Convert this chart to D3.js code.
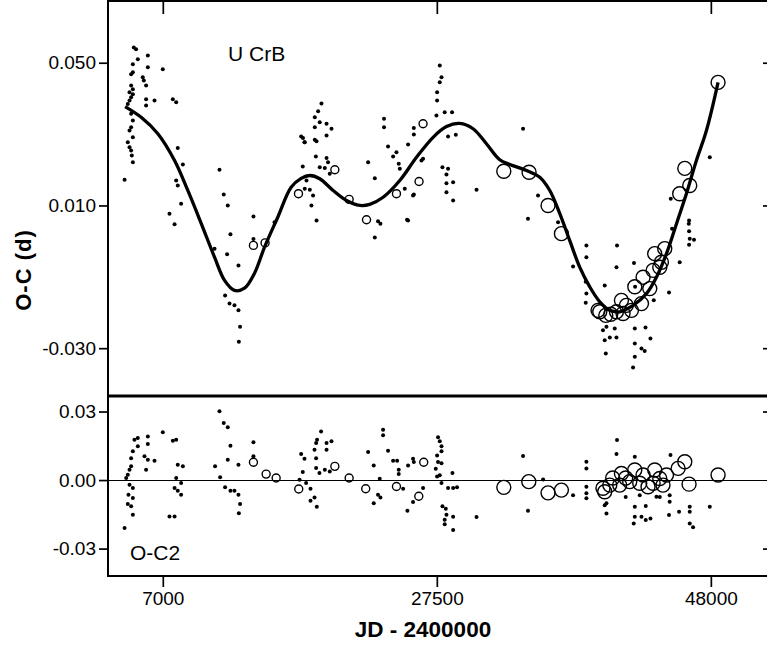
<!DOCTYPE html>
<html><head><meta charset="utf-8">
<script src="https://cdn.jsdelivr.net/npm/d3@7"></script>
<style>
html,body{margin:0;padding:0;background:#fff;overflow:hidden;}
svg{display:block;overflow:hidden;}
text{font-family:"Liberation Sans",Arial,sans-serif;fill:#000;}
</style></head>
<body>
<svg id="chart" width="767" height="650"></svg>
<script>
// ---------- DATA (JD-2400000, O-C in days) ----------
const xTicks = [7000, 27500, 48000];
const topYTicks = [0.050, 0.010, -0.030];
const botYTicks = [0.03, 0.00, -0.03];
const starLabel = "U CrB";
const residLabel = "O-C2";
const xTitle = "JD - 2400000";
const yTitle = "O-C (d)";

// visual minima (small dots), upper panel
const topDots = [
[4830,0.0543],[5000,0.0538],[5130,0.0510],[5880,0.0520],[4760,0.0496],[5880,0.0487],[7000,0.0482],
[4630,0.0468],[4760,0.0473],[5500,0.0459],[5580,0.0450],[4630,0.0436],[4760,0.0426],[5750,0.0436],
[4510,0.0417],[4760,0.0412],[4630,0.0403],[5750,0.0398],[4510,0.0394],[4380,0.0384],[6380,0.0394],
[7750,0.0398],[8000,0.0389],[5750,0.0380],[4630,0.0357],[4760,0.0338],[4630,0.0319],[4510,0.0310],
[4760,0.0291],[4380,0.0277],[4510,0.0263],[4630,0.0254],[4680,0.0240],[4760,0.0221],[4140,0.0172],
[8120,0.0261],[8500,0.0215],[8000,0.0170],[8120,0.0156],[8370,0.0105],[7500,0.0077],[7880,0.0047],
[11240,0.0200],[11560,0.0131],[11860,0.0100],[12060,0.0019],[10870,-0.0021],[11810,-0.0037],
[12660,-0.0068],[13780,0.0069],[13780,0.0006],[11660,-0.0152],[11990,-0.0175],[12360,-0.0180],
[12660,-0.0194],[12780,-0.0240],[12690,-0.0282],[17350,0.0293],[17600,0.0277],[17470,0.0209],
[15360,0.0053],[18870,0.0386],[18620,0.0364],[18370,0.0347],[18740,0.0333],[18370,0.0319],
[19250,0.0329],[19620,0.0315],[19250,0.0296],[18370,0.0284],[18500,0.0280],[17490,0.0289],
[17620,0.0277],[18450,0.0237],[19250,0.0233],[19360,0.0221],[18740,0.0207],[19120,0.0205],
[19490,0.0189],[17750,0.0170],[17620,0.0147],[18000,0.0144],[18240,0.0128],[18120,0.0100],
[18500,0.0058],[23550,0.0343],[23550,0.0319],[23850,0.0265],[24480,0.0249],[24230,0.0237],
[24650,0.0217],[24730,0.0203],[22360,0.0221],[22860,0.0176],[25100,0.0147],[25780,0.0131],
[23100,0.0056],[23280,0.0049],[22860,0.0010],[25270,0.0060],[25780,0.0317],[26470,0.0231],
[25780,0.0299],[27520,0.0417],[27720,0.0492],[27850,0.0459],[27720,0.0445],[27520,0.0394],
[27470,0.0352],[28090,0.0361],[28640,0.0361],[28340,0.0293],[28920,0.0298],[27920,0.0207],
[28220,0.0187],[28220,0.0162],[28720,0.0165],[28220,0.0137],[28720,0.0114],[28340,0.0203],
[30470,0.0144],[33950,0.0315],[34320,0.0063],[35070,0.0128],[47920,0.0235],[25350,0.0271],
[26350,0.0226],[25720,0.0128],[25350,0.0058],[36570,0.0053],[38690,-0.0012],[38690,-0.0045],
[37690,-0.0071],[38640,-0.0114],[38690,-0.0147],[38640,-0.0173],[40060,-0.0124],[40980,-0.0012],
[40940,-0.0073],[42250,-0.0061],[42330,-0.0128],[39930,-0.0250],[40190,-0.0240],[40810,-0.0245],
[40060,-0.0278],[40440,-0.0270],[40940,-0.0270],[42310,-0.0245],[43110,-0.0242],[43480,-0.0273],
[42310,-0.0287],[42810,-0.0301],[43050,-0.0308],[40140,-0.0315],[42310,-0.0324],[42180,-0.0354],
[44870,-0.0144],[45670,-0.0059],[46370,-0.0010],[46420,0.0007],[46740,0.0004],[46370,0.0028],
[46350,0.0049],[46370,0.0058],[45000,0.0119],[45100,0.0035],[43730,-0.0166]
];
// photographic minima (small open circles), upper panel
const topPhoto = [
[13780,-0.0012],[14650,-0.0005],[17150,0.0133],[19870,0.0200],[20940,0.0117],
[22240,0.0060],[24480,0.0133],[26170,0.0167],[26470,0.0329]
];
// photoelectric minima (large open circles), upper panel
const topPe = [
[32510,0.0196],[34400,0.0193],[35820,0.0100],[36820,0.0021],[45670,0.0133],[46050,0.0204],
[46420,0.0156],[48540,0.0445],[39690,-0.0198],[40140,-0.0208],[39560,-0.0194],[41310,-0.0166],
[41430,-0.0203],[40940,-0.0198],[42060,-0.0194],[42810,-0.0175],[42310,-0.0128],[42930,-0.0101],
[43430,-0.0133],[43680,-0.0082],[43800,-0.0035],[44300,-0.0059],[44550,-0.0021],[44180,-0.0073],
[41680,-0.0180],[40510,-0.0205]
];
// fitted curve
const fitCurve = [
[4180,0.0377],[5380,0.0347],[6630,0.0301],[7880,0.0226],[8870,0.0142],[9870,0.0050],
[10870,-0.0045],[11620,-0.0110],[12360,-0.0138],[13110,-0.0132],[13860,-0.0090],[14610,-0.0017],
[15600,0.0067],[16600,0.0151],[17350,0.0176],[18000,0.0184],[18740,0.0175],[19740,0.0142],
[20740,0.0114],[21740,0.0100],[22480,0.0103],[23480,0.0123],[24730,0.0170],[25980,0.0235],
[27220,0.0291],[28220,0.0321],[29220,0.0330],[30210,0.0315],[31210,0.0273],[32210,0.0228],
[32960,0.0215],[34210,0.0198],[35200,0.0179],[35950,0.0142],[36700,0.0077],[37440,0.0002],
[38190,-0.0073],[38940,-0.0128],[39690,-0.0170],[40440,-0.0194],[41180,-0.0198],[42180,-0.0180],
[43180,-0.0147],[43930,-0.0101],[44680,-0.0035],[45430,0.0049],[46170,0.0133],[46920,0.0226],
[47670,0.0310],[48540,0.0445]
];
// residuals O-C2, lower panel
const resDots = [
[4140,-0.0210],[4260,0.0009],[4380,0.0023],[4510,0.0045],[4630,0.0060],[4510,-0.0021],[4760,-0.0035],
[4430,-0.0064],[4760,-0.0079],[4380,-0.0105],[4630,-0.0115],[4760,-0.0152],[4630,0.0096],[4760,0.0126],
[4880,0.0177],[5130,0.0184],[5130,0.0148],[5880,0.0191],[5880,0.0158],[5630,0.0104],[5880,0.0089],
[5750,0.0045],[6380,0.0085],[7000,0.0209],[7750,0.0172],[8000,0.0177],[8120,0.0067],[8500,0.0060],
[8000,0.0009],[8370,-0.0013],[7880,-0.0035],[8120,-0.0047],[8370,-0.0064],[7500,-0.0159],[7880,-0.0159],
[11240,0.0301],[11560,0.0250],[11860,0.0231],[12060,0.0150],[11860,0.0089],[10910,0.0060],[11290,0.0012],
[11660,-0.0032],[12060,-0.0047],[12360,-0.0047],[12660,-0.0064],[12780,-0.0105],[12690,-0.0145],
[12660,0.0067],[13780,0.0166],[13780,0.0104],[17350,0.0114],[17600,0.0093],[17470,0.0035],[17230,0.0001],
[17720,-0.0013],[18050,-0.0038],[18350,-0.0076],[18050,-0.0091],[18520,-0.0117],[18840,0.0213],
[18540,0.0177],[18470,0.0162],[18350,0.0133],[18470,0.0096],[18470,0.0053],[18720,0.0031],[19250,0.0162],
[19620,0.0170],[19250,0.0133],[19120,0.0045],[19490,0.0038],[23480,0.0220],[23480,0.0196],[22360,0.0123],
[23850,0.0128],[24230,0.0085],[24530,0.0085],[22780,0.0064],[24650,0.0045],[24650,0.0026],[23230,0.0006],
[23100,-0.0064],[23280,-0.0076],[22780,-0.0102],[24980,-0.0038],[25350,0.0064],[25720,0.0093],
[25780,0.0079],[25300,-0.0134],[26470,-0.0035],[25720,-0.0096],[27590,0.0187],[27720,0.0170],
[27850,0.0148],[27850,0.0126],[27520,0.0108],[27590,0.0079],[27850,0.0074],[27420,0.0049],[27520,0.0016],
[27720,0.0021],[27850,-0.0013],[28340,-0.0035],[28720,-0.0035],[29010,-0.0032],[28670,0.0031],
[27920,-0.0115],[28170,-0.0126],[28220,-0.0152],[28090,-0.0174],[28090,-0.0193],[28720,-0.0161],
[28720,-0.0219],[30470,-0.0162],[33950,0.0105],[34320,-0.0134],[35450,0.0003],[37690,-0.0066],
[38690,0.0080],[38690,0.0051],[38690,-0.0029],[38690,-0.0058],[38690,-0.0080],[40980,0.0175],
[40940,0.0114],[40190,-0.0146],[40190,-0.0102],[42310,0.0102],[42310,-0.0117],[42310,-0.0161],
[42230,-0.0190],[43130,-0.0114],[42810,-0.0161],[43480,-0.0168],[44980,0.0110],[44920,-0.0066],
[44870,-0.0153],[46420,-0.0117],[46420,-0.0139],[46420,-0.0190],[46670,-0.0207],[47920,-0.0117],
[45620,-0.0139],[43930,-0.0073],[40060,-0.0110],[43130,-0.0175],[44920,-0.0095],[42680,-0.0066],
[41630,-0.0074],[44180,-0.0074]
];
const resPhoto = [
[13780,0.0078],[14730,0.0026],[15480,0.0009],[17170,-0.0039],[19870,0.0060],
[20940,0.0009],[22180,-0.0038],[24480,-0.0028],[26520,0.0078],[26150,-0.0071]
];
const resPe = [
[32510,-0.0032],[34380,-0.0007],[35820,-0.0056],[36820,-0.0044],[46050,0.0080],[46370,-0.0018],
[48540,0.0022],[39930,-0.0036],[40440,-0.0022],[40060,-0.0051],[41310,0.0029],[41180,-0.0022],
[41930,-0.0007],[42310,0.0044],[42680,-0.0014],[42930,0.0022],[43300,-0.0029],[43800,0.0044],
[44180,0.0007],[44420,-0.0022],[44680,0.0022],[43680,-0.0014],[40660,0.0009],[41630,0.0009],
[45550,0.0051]
];

// ---------- LAYOUT ----------
const W = 767;
const L = 108, R = 771, T = 1, SEP = 396, B = 576;
const svg = d3.select("#chart");
const loc = d3.formatLocale({decimal:".", thousands:",", grouping:[3], currency:["",""], minus:"-"});

const x = d3.scaleLinear().domain([2900, 52500]).range([L, R]);
const yTop = d3.scaleLinear().domain([-0.0434, 0.0673]).range([SEP, T]);
const yBot = d3.scaleLinear().domain([-0.0420, 0.0368]).range([B, SEP]);

const defs = svg.append("defs");
defs.append("clipPath").attr("id","cTop").append("rect").attr("x",L).attr("y",T).attr("width",W-L).attr("height",SEP-T);
defs.append("clipPath").attr("id","cBot").append("rect").attr("x",L).attr("y",SEP).attr("width",W-L).attr("height",B-SEP);

function styleAxis(g, size){
  g.select(".domain").remove();
  g.selectAll(".tick line").attr("stroke","#000").attr("stroke-width",1.7);
  g.selectAll(".tick text").attr("font-size", size).attr("fill","#000")
   .attr("font-family","'Liberation Sans', Arial, sans-serif");
}

// Left axes
const gyT = svg.append("g").attr("transform",`translate(${L},0)`)
  .call(d3.axisLeft(yTop).tickValues(topYTicks).tickSize(9).tickPadding(3).tickFormat(loc.format(".3f")));
styleAxis(gyT, 19);
const gyB = svg.append("g").attr("transform",`translate(${L},0)`)
  .call(d3.axisLeft(yBot).tickValues(botYTicks).tickSize(9).tickPadding(3).tickFormat(loc.format(".2f")));
styleAxis(gyB, 19);
// right inward ticks; the right frame itself lies just beyond the picture edge
const gyTR = svg.append("g").attr("transform",`translate(${W},0)`)
  .call(d3.axisRight(yTop).tickValues(topYTicks).tickSize(-4).tickFormat(""));
styleAxis(gyTR, 19);
const gyBR = svg.append("g").attr("transform",`translate(${W},0)`)
  .call(d3.axisRight(yBot).tickValues([0.03, -0.03]).tickSize(-4).tickFormat(""));
styleAxis(gyBR, 19);
// top inward ticks
const gxT = svg.append("g").attr("transform",`translate(0,${T})`)
  .call(d3.axisTop(x).tickValues(xTicks).tickSize(-13).tickFormat(""));
styleAxis(gxT, 19);
// bottom axis
const gxB = svg.append("g").attr("transform",`translate(0,${B})`)
  .call(d3.axisBottom(x).tickValues(xTicks).tickSize(11).tickPadding(5).tickFormat(d3.format("d")));
styleAxis(gxB, 19);

// frame (left, top, separator, bottom)
svg.append("line").attr("x1",L).attr("x2",L).attr("y1",0).attr("y2",B+1).attr("stroke","#000").attr("stroke-width",2);
svg.append("line").attr("x1",L).attr("x2",W).attr("y1",T).attr("y2",T).attr("stroke","#000").attr("stroke-width",2);
svg.append("line").attr("x1",L).attr("x2",W).attr("y1",SEP).attr("y2",SEP).attr("stroke","#000").attr("stroke-width",3.2);
svg.append("line").attr("x1",L).attr("x2",W).attr("y1",B).attr("y2",B).attr("stroke","#000").attr("stroke-width",2);

// zero line lower panel
svg.append("line").attr("x1",L).attr("x2",W).attr("y1",Math.round(yBot(0))+0.5).attr("y2",Math.round(yBot(0))+0.5)
  .attr("stroke","#000").attr("stroke-width",1.2);

// ---------- upper panel marks ----------
const gT = svg.append("g").attr("clip-path","url(#cTop)");
gT.append("path").datum(fitCurve)
  .attr("fill","none").attr("stroke","#000").attr("stroke-width",3.3).attr("stroke-linejoin","round")
  .attr("d", d3.line().x(d=>x(d[0])).y(d=>yTop(d[1])).curve(d3.curveCatmullRom.alpha(0.5)));
gT.selectAll("circle.dot").data(topDots).join("circle").attr("class","dot")
  .attr("cx",d=>x(d[0])).attr("cy",d=>yTop(d[1])).attr("r",2).attr("fill","#000");
gT.selectAll("circle.ph").data(topPhoto).join("circle").attr("class","ph")
  .attr("cx",d=>x(d[0])).attr("cy",d=>yTop(d[1])).attr("r",4).attr("fill","none").attr("stroke","#000").attr("stroke-width",1.4);
gT.selectAll("circle.pe").data(topPe).join("circle").attr("class","pe")
  .attr("cx",d=>x(d[0])).attr("cy",d=>yTop(d[1])).attr("r",7).attr("fill","none").attr("stroke","#000").attr("stroke-width",1.4);

// ---------- lower panel marks ----------
const gB = svg.append("g").attr("clip-path","url(#cBot)");
gB.selectAll("circle.dot").data(resDots).join("circle").attr("class","dot")
  .attr("cx",d=>x(d[0])).attr("cy",d=>yBot(d[1])).attr("r",2).attr("fill","#000");
gB.selectAll("circle.ph").data(resPhoto).join("circle").attr("class","ph")
  .attr("cx",d=>x(d[0])).attr("cy",d=>yBot(d[1])).attr("r",4).attr("fill","none").attr("stroke","#000").attr("stroke-width",1.4);
gB.selectAll("circle.pe").data(resPe).join("circle").attr("class","pe")
  .attr("cx",d=>x(d[0])).attr("cy",d=>yBot(d[1])).attr("r",7).attr("fill","none").attr("stroke","#000").attr("stroke-width",1.4);

// ---------- labels ----------
svg.append("text").attr("x",228).attr("y",61).attr("font-size",21).text(starLabel);
svg.append("text").attr("x",130).attr("y",560).attr("font-size",21).text(residLabel);
svg.append("text").attr("x",423).attr("y",637).attr("text-anchor","middle")
  .attr("font-size",22.5).attr("font-weight","bold").text(xTitle);
svg.append("text").attr("transform","translate(31,270) rotate(-90)").attr("text-anchor","middle")
  .attr("font-size",22).attr("font-weight","bold").attr("letter-spacing",1).text(yTitle);
</script>
</body></html>
